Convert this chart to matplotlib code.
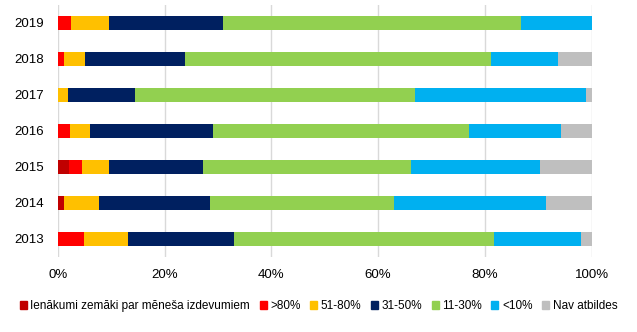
import numpy as np
import matplotlib.pyplot as plt
from matplotlib.patches import Patch

years = ['2013', '2014', '2015', '2016', '2017', '2018', '2019']
series = ['Ienākumi zemāki par mēneša izdevumiem', '>80%', '51-80%', '31-50%',
          '11-30%', '<10%', 'Nav atbildes']
colors = ['#C00000', '#FF0000', '#FFC000', '#002060', '#92D050', '#00B0F0', '#BFBFBF']

# shares in %, per year (2013..2019)
lower_income = [0.0, 1.2, 2.1, 0.0, 0.0, 0.0, 0.0]
over_80 = [4.9, 0.0, 2.5, 2.3, 0.0, 1.2, 2.5]
p51_80 = [8.3, 6.5, 5.0, 3.8, 1.9, 3.9, 7.1]
p31_50 = [19.8, 20.8, 17.6, 23.0, 12.6, 18.8, 21.4]
p11_30 = [48.6, 34.5, 39.0, 47.9, 52.4, 57.2, 55.8]
under_10 = [16.3, 28.4, 24.1, 17.3, 32.0, 12.6, 13.2]
no_answer = [2.1, 8.6, 9.7, 5.7, 1.1, 6.3, 0.0]

data = np.array([lower_income, over_80, p51_80, p31_50, p11_30, under_10, no_answer])
data = data / data.sum(axis=0) * 100

plt.rcParams['font.family'] = 'Liberation Sans'

fig = plt.figure(figsize=(6.37, 3.32), dpi=100)
ax = fig.add_axes([0.0906, 0.226, 0.8384, 0.759])

y = np.arange(len(years))
left = np.zeros(len(years))
for vals, c in zip(data, colors):
    ax.barh(y, vals, left=left, height=0.41, color=c, zorder=3)
    left += vals

ax.set_xlim(0, 100)
ax.set_ylim(-0.5, 6.5)
ax.set_xticks(np.arange(0, 101, 20))
ax.set_xticklabels([f'{v}%' for v in range(0, 101, 20)], fontsize=9.5)
ax.set_yticks(y)
ax.set_yticklabels(years, fontsize=9.5)
ax.tick_params(length=0, pad=9)
ax.tick_params(axis='y', pad=10)
ax.grid(axis='x', color='#D9D9D9', lw=1, zorder=0)
for s in ax.spines.values():
    s.set_visible(False)

handles = [Patch(color=c) for c in colors]
fig.legend(handles, series, loc='center', bbox_to_anchor=(0.5, 0.078), ncol=7,
           frameon=False, fontsize=8.5,
           handlelength=0.6, handleheight=0.6,
           handletextpad=0.3, columnspacing=0.8)

fig.savefig('out.png', dpi=100)
